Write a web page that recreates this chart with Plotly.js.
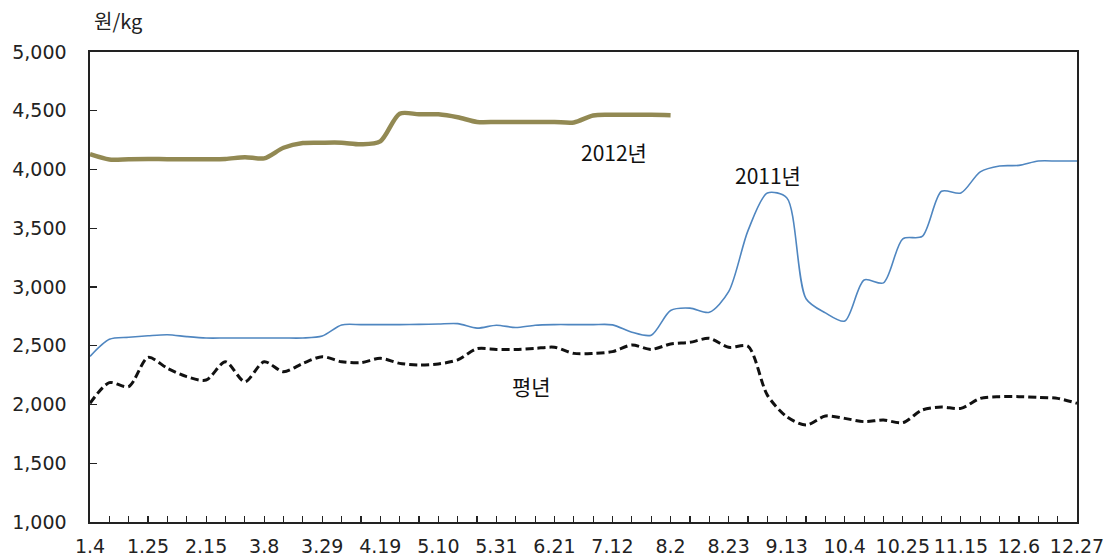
<!DOCTYPE html>
<html>
<head>
<meta charset="utf-8">
<script src="https://cdn.plot.ly/plotly-3.0.1.min.js"></script>
<style>
  html, body { margin: 0; padding: 0; background: #ffffff; }
  #chart { width: 1111px; height: 558px; }
</style>
</head>
<body>
<div id="chart"></div>
<script>
// Weekly categories (52 weeks)
const weeks = [
  "1.4","1.11","1.18","1.25","2.1","2.8","2.15","2.22","3.1","3.8",
  "3.15","3.22","3.29","4.5","4.12","4.19","4.26","5.3","5.10","5.17",
  "5.24","5.31","6.7","6.14","6.21","6.28","7.5","7.12","7.19","7.26",
  "8.2","8.9","8.16","8.23","8.30","9.6","9.13","9.20","9.27","10.4",
  "10.11","10.18","10.25","11.1","11.8","11.15","11.22","11.29","12.6","12.13",
  "12.20","12.27"
];
// Labelled weeks on the x axis
const tickLabels = ["1.4","1.25","2.15","3.8","3.29","4.19","5.10","5.31","6.21","7.12",
  "8.2","8.23","9.13","10.4","10.25","11.15","12.6","12.27"];

// 2012년 (available through 8.2)
const values2012 = [
  4130, 4085, 4088, 4090, 4088, 4088, 4088, 4090, 4105, 4095,
  4185, 4225, 4228, 4228, 4215, 4240, 4475, 4470, 4470, 4445,
  4405, 4405, 4405, 4405, 4405, 4400, 4460, 4465, 4465, 4465,
  4462
];
// 2011년
const values2011 = [
  2410, 2555, 2572, 2585, 2594, 2578, 2566, 2566, 2566, 2566,
  2566, 2566, 2583, 2677, 2680, 2680, 2680, 2682, 2685, 2688,
  2650, 2675, 2655, 2675, 2680, 2680, 2680, 2678, 2615, 2590,
  2800, 2820, 2785, 2960, 3480, 3800, 3760, 2900, 2780, 2710,
  3060, 3035, 3410, 3430, 3815, 3800, 3980, 4030, 4035, 4072,
  4072, 4072
];
// 평년
const valuesAvg = [
  2010, 2186, 2152, 2401, 2308, 2237, 2208, 2364, 2194, 2364,
  2279, 2350, 2407, 2364, 2356, 2393, 2350, 2336, 2345, 2380,
  2475, 2469, 2469, 2478, 2487, 2435, 2435, 2450, 2506, 2469,
  2515, 2529, 2563, 2487, 2495, 2080, 1896, 1825, 1902, 1882,
  1854, 1868, 1845, 1953, 1978, 1967, 2052, 2067, 2067, 2061,
  2052, 2010
];

const seriesNames = ["2012년", "2011년", "평년"];
const yTicks = [1000, 1500, 2000, 2500, 3000, 3500, 4000, 4500, 5000];

const traces = [
  {
    x: weeks.slice(0, values2012.length), y: values2012, name: seriesNames[0],
    type: "scatter", mode: "lines",
    line: { color: "#928953", width: 4.5, shape: "spline", smoothing: 0.8 }
  },
  {
    x: weeks, y: values2011, name: seriesNames[1],
    type: "scatter", mode: "lines",
    line: { color: "#4f86c0", width: 1.6, shape: "spline", smoothing: 0.8 }
  },
  {
    x: weeks, y: valuesAvg, name: seriesNames[2],
    type: "scatter", mode: "lines",
    line: { color: "#111111", width: 3, dash: "8px,4px", shape: "spline", smoothing: 0.8 }
  }
];

const tickFont = { family: "DejaVu Sans, Noto Sans CJK KR, sans-serif", size: 19, color: "#222222" };
const labelFont = { family: "Noto Sans CJK KR, sans-serif", size: 21, color: "#111111" };

const layout = {
  width: 1111, height: 558, autosize: false,
  margin: { l: 90, r: 34, t: 52, b: 36, pad: 0 },
  paper_bgcolor: "#ffffff", plot_bgcolor: "#ffffff",
  showlegend: false,
  xaxis: {
    type: "category",
    range: [0, weeks.length - 1],
    tickmode: "array",
    tickvals: weeks,
    ticktext: weeks.map(w => tickLabels.includes(w) ? w : ""),
    ticks: "inside", ticklen: 6, tickwidth: 1.2, tickcolor: "#222222",
    showline: true, linecolor: "#222222", linewidth: 1.6, mirror: true,
    showgrid: false, zeroline: false,
    tickfont: tickFont, tickangle: 0,
    ticklabelstandoff: 7,
    fixedrange: true
  },
  yaxis: {
    range: [1000, 5000],
    tickmode: "array", tickvals: yTicks,
    tickformat: ",d",
    ticks: "inside", ticklen: 7, tickwidth: 1.2, tickcolor: "#222222",
    showline: true, linecolor: "#222222", linewidth: 1.6, mirror: true,
    showgrid: false, zeroline: false,
    tickfont: tickFont,
    ticklabelstandoff: 18,
    fixedrange: true
  },
  annotations: [
    { text: "원/kg", xref: "paper", yref: "paper", x: 0.028, y: 1.068,
      xanchor: "center", yanchor: "middle", showarrow: false,
      font: { family: "Noto Sans CJK KR, sans-serif", size: 20, color: "#222222" } },
    { text: seriesNames[0], xref: "x", yref: "y", x: 27.08, y: 4149,
      xanchor: "center", yanchor: "middle", showarrow: false, font: labelFont },
    { text: seriesNames[1], xref: "x", yref: "y", x: 35.03, y: 3953,
      xanchor: "center", yanchor: "middle", showarrow: false, font: labelFont },
    { text: seriesNames[2], xref: "x", yref: "y", x: 22.79, y: 2157,
      xanchor: "center", yanchor: "middle", showarrow: false, font: labelFont }
  ]
};

Plotly.newPlot("chart", traces, layout, { staticPlot: true, displayModeBar: false });
</script>
</body>
</html>
